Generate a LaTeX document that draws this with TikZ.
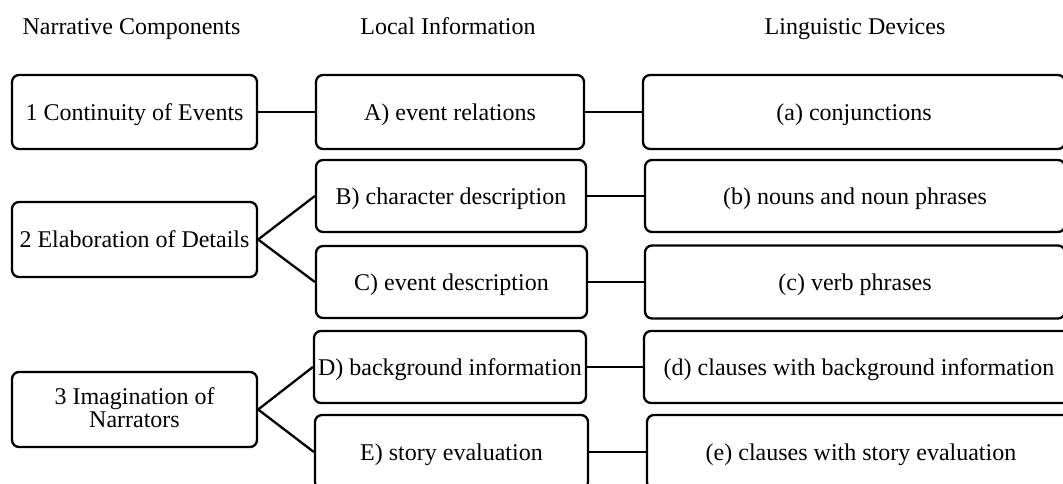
\documentclass[tikz,border=0pt]{standalone}
\usepackage{fontspec}
\setmainfont{Liberation Serif}
\begin{document}
\begin{tikzpicture}[x=1pt,y=-1pt,
  box/.style={draw=black, line width=2.3pt, rounded corners=7pt, inner sep=0pt,
    align=center, text height=17pt, text depth=1pt, font=\fontsize{24}{23}\selectfont},
  head/.style={inner sep=0pt, anchor=base, font=\fontsize{24}{23}\selectfont},
  link/.style={draw=black, line width=2.3pt}]
\useasboundingbox (0,0) rectangle (1063,483);
\clip (0,0) rectangle (1063,483);
% headers
\node[head] (h1) at (131.5,34) {Narrative Components};
\node[head] (h2) at (448,34) {Local Information};
\node[head] (h3) at (855,34) {Linguistic Devices};
% column 1
\node[box, minimum width=245pt, minimum height=74pt] (n1) at (134.5,112) {1 Continuity of Events};
\node[box, minimum width=245pt, minimum height=75pt] (n2) at (134.5,239.5) {2 Elaboration of Details};
\node[box, minimum width=245pt, minimum height=75pt, text height=40pt, text depth=5pt] (n3) at (134.5,409.5) {3 Imagination of\\Narrators};
% column 2
\node[box, minimum width=268pt, minimum height=74pt] (A) at (450,112) {A) event relations};
\node[box, minimum width=270pt, minimum height=72pt] (B) at (451,196) {B) character description};
\node[box, minimum width=271pt, minimum height=72pt] (C) at (451.5,282) {C) event description};
\node[box, minimum width=272pt, minimum height=72pt] (D) at (450,367) {D) background information};
\node[box, minimum width=273pt, minimum height=74pt] (E) at (451.5,452) {E) story evaluation};
% column 3
\node[box, minimum width=422pt, minimum height=74pt] (a) at (854,112) {(a) conjunctions};
\node[box, minimum width=420pt, minimum height=72pt] (b) at (855,196) {(b) nouns and noun phrases};
\node[box, minimum width=420pt, minimum height=73pt] (c) at (855,282) {(c) verb phrases};
\node[box, minimum width=430pt, minimum height=72pt] (d) at (859,367) {(d) clauses with background information};
\node[box, minimum width=428pt, minimum height=74pt] (e) at (861,452) {(e) clauses with story evaluation};
% connectors
\draw[link] (n1.east) -- (A.west);
\draw[link] (n2.east) -- (B.west);
\draw[link] (n2.east) -- (C.west);
\draw[link] (n3.east) -- (D.west);
\draw[link] (n3.east) -- (E.west);
\draw[link] (A.east) -- (a.west);
\draw[link] (B.east) -- (b.west);
\draw[link] (C.east) -- (c.west);
\draw[link] (D.east) -- (d.west);
\draw[link] (E.east) -- (e.west);
\end{tikzpicture}
\end{document}
